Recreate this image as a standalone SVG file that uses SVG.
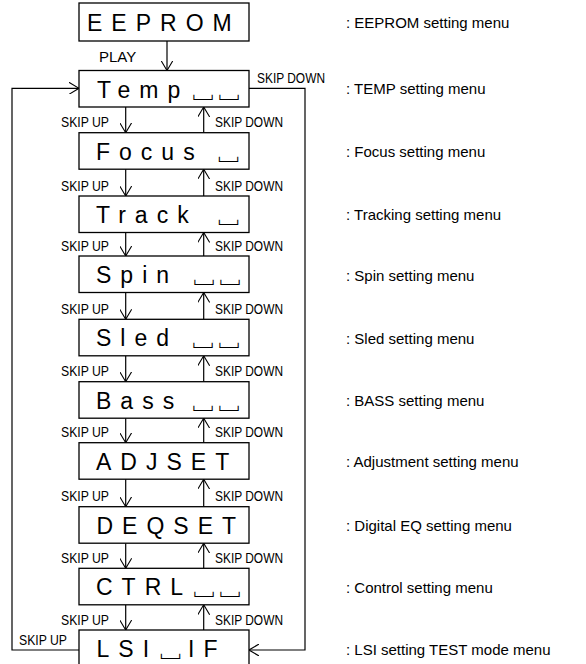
<svg xmlns="http://www.w3.org/2000/svg" width="586" height="664" viewBox="0 0 586 664">
<defs>
<marker id="ah" viewBox="0 0 10 12" refX="10" refY="6" markerWidth="10" markerHeight="12" markerUnits="userSpaceOnUse" orient="auto">
<path d="M0,0 L10,6 L0,12" fill="none" stroke="#000" stroke-width="1.1"/>
</marker>
<style>
.box{fill:#fff;stroke:#000;stroke-width:1.3}
.bt{font-family:"Liberation Sans",Arial,sans-serif;font-size:23px;letter-spacing:9px;fill:#000}
.bl{font-family:"Noto Sans CJK JP",sans-serif;font-size:26px;fill:#000}
.lb{font-family:"Liberation Sans",Arial,sans-serif;font-size:15px;fill:#000}
.ds{font-family:"Liberation Sans",Arial,sans-serif;font-size:15px;fill:#000}
.c{fill:none;stroke:#000;stroke-width:1.2}
</style>
</defs>
<rect width="586" height="664" fill="#fff"/>
<g id="connectors">
<line class="c" x1="167" y1="41" x2="167" y2="70.5" marker-end="url(#ah)"/>
<path class="c" d="M79,650 H12 V88.3 H79" marker-end="url(#ah)"/>
<path class="c" d="M249,88.3 H305 V650 H249" marker-end="url(#ah)"/>
<line class="c" x1="125.7" y1="107" x2="125.7" y2="132.7" marker-end="url(#ah)"/>
<line class="c" x1="203.7" y1="132.7" x2="203.7" y2="107" marker-end="url(#ah)"/>
<line class="c" x1="125.7" y1="169.2" x2="125.7" y2="196" marker-end="url(#ah)"/>
<line class="c" x1="203.7" y1="196" x2="203.7" y2="169.2" marker-end="url(#ah)"/>
<line class="c" x1="125.7" y1="232.5" x2="125.7" y2="256" marker-end="url(#ah)"/>
<line class="c" x1="203.7" y1="256" x2="203.7" y2="232.5" marker-end="url(#ah)"/>
<line class="c" x1="125.7" y1="292.5" x2="125.7" y2="319.3" marker-end="url(#ah)"/>
<line class="c" x1="203.7" y1="319.3" x2="203.7" y2="292.5" marker-end="url(#ah)"/>
<line class="c" x1="125.7" y1="355.8" x2="125.7" y2="381.7" marker-end="url(#ah)"/>
<line class="c" x1="203.7" y1="381.7" x2="203.7" y2="355.8" marker-end="url(#ah)"/>
<line class="c" x1="125.7" y1="418.2" x2="125.7" y2="442.7" marker-end="url(#ah)"/>
<line class="c" x1="203.7" y1="442.7" x2="203.7" y2="418.2" marker-end="url(#ah)"/>
<line class="c" x1="125.7" y1="479.2" x2="125.7" y2="506.7" marker-end="url(#ah)"/>
<line class="c" x1="203.7" y1="506.7" x2="203.7" y2="479.2" marker-end="url(#ah)"/>
<line class="c" x1="125.7" y1="543.2" x2="125.7" y2="568.3" marker-end="url(#ah)"/>
<line class="c" x1="203.7" y1="568.3" x2="203.7" y2="543.2" marker-end="url(#ah)"/>
<line class="c" x1="125.7" y1="604.8" x2="125.7" y2="630" marker-end="url(#ah)"/>
<line class="c" x1="203.7" y1="630" x2="203.7" y2="604.8" marker-end="url(#ah)"/>
<text class="lb" x="99" y="62" font-size="16.5">PLAY</text>
<text class="lb" x="257" y="83" textLength="68" lengthAdjust="spacingAndGlyphs">SKIP DOWN</text>
<text class="lb" x="19" y="645" textLength="48" lengthAdjust="spacingAndGlyphs">SKIP UP</text>
<text class="lb" x="61" y="127.2" textLength="48" lengthAdjust="spacingAndGlyphs">SKIP UP</text>
<text class="lb" x="215" y="127.2" textLength="68" lengthAdjust="spacingAndGlyphs">SKIP DOWN</text>
<text class="lb" x="61" y="190.5" textLength="48" lengthAdjust="spacingAndGlyphs">SKIP UP</text>
<text class="lb" x="215" y="190.5" textLength="68" lengthAdjust="spacingAndGlyphs">SKIP DOWN</text>
<text class="lb" x="61" y="250.5" textLength="48" lengthAdjust="spacingAndGlyphs">SKIP UP</text>
<text class="lb" x="215" y="250.5" textLength="68" lengthAdjust="spacingAndGlyphs">SKIP DOWN</text>
<text class="lb" x="61" y="313.8" textLength="48" lengthAdjust="spacingAndGlyphs">SKIP UP</text>
<text class="lb" x="215" y="313.8" textLength="68" lengthAdjust="spacingAndGlyphs">SKIP DOWN</text>
<text class="lb" x="61" y="376.2" textLength="48" lengthAdjust="spacingAndGlyphs">SKIP UP</text>
<text class="lb" x="215" y="376.2" textLength="68" lengthAdjust="spacingAndGlyphs">SKIP DOWN</text>
<text class="lb" x="61" y="437.2" textLength="48" lengthAdjust="spacingAndGlyphs">SKIP UP</text>
<text class="lb" x="215" y="437.2" textLength="68" lengthAdjust="spacingAndGlyphs">SKIP DOWN</text>
<text class="lb" x="61" y="501.2" textLength="48" lengthAdjust="spacingAndGlyphs">SKIP UP</text>
<text class="lb" x="215" y="501.2" textLength="68" lengthAdjust="spacingAndGlyphs">SKIP DOWN</text>
<text class="lb" x="61" y="562.8" textLength="48" lengthAdjust="spacingAndGlyphs">SKIP UP</text>
<text class="lb" x="215" y="562.8" textLength="68" lengthAdjust="spacingAndGlyphs">SKIP DOWN</text>
<text class="lb" x="61" y="624.5" textLength="48" lengthAdjust="spacingAndGlyphs">SKIP UP</text>
<text class="lb" x="215" y="624.5" textLength="68" lengthAdjust="spacingAndGlyphs">SKIP DOWN</text>
</g>
<g id="eeprom">
<rect class="box" x="79" y="3" width="170" height="38"/>
<text class="bt" x="87" y="30.5">EEPROM</text>
<text class="ds" x="346" y="27.5">: EEPROM setting menu</text>
</g>
<g id="temp">
<rect class="box" x="79" y="70.5" width="170" height="36.5"/>
<text class="bt" x="97" y="97.5">Temp</text>
<text class="bl" x="190" y="96.5">␣</text>
<text class="bl" x="216" y="96.5">␣</text>
<text class="ds" x="346" y="93.5">: TEMP setting menu</text>
</g>
<g id="focus">
<rect class="box" x="79" y="132.7" width="170" height="36.5"/>
<text class="bt" x="96" y="159.7">Focus</text>
<text class="bl" x="215.5" y="158.7">␣</text>
<text class="ds" x="346" y="156.5">: Focus setting menu</text>
</g>
<g id="track">
<rect class="box" x="79" y="196" width="170" height="36.5"/>
<text class="bt" x="96" y="223">Track</text>
<text class="bl" x="215.5" y="222">␣</text>
<text class="ds" x="346" y="219.5">: Tracking setting menu</text>
</g>
<g id="spin">
<rect class="box" x="79" y="256" width="170" height="36.5"/>
<text class="bt" x="96" y="283">Spin</text>
<text class="bl" x="191" y="282">␣</text>
<text class="bl" x="217" y="282">␣</text>
<text class="ds" x="346" y="280.5">: Spin setting menu</text>
</g>
<g id="sled">
<rect class="box" x="79" y="319.3" width="170" height="36.5"/>
<text class="bt" x="96" y="346.3">Sled</text>
<text class="bl" x="190" y="345.3">␣</text>
<text class="bl" x="216" y="345.3">␣</text>
<text class="ds" x="346" y="343.5">: Sled setting menu</text>
</g>
<g id="bass">
<rect class="box" x="79" y="381.7" width="170" height="36.5"/>
<text class="bt" x="96" y="408.7">Bass</text>
<text class="bl" x="190" y="407.7">␣</text>
<text class="bl" x="216" y="407.7">␣</text>
<text class="ds" x="346" y="405.5">: BASS setting menu</text>
</g>
<g id="adjset">
<rect class="box" x="79" y="442.7" width="170" height="36.5"/>
<text class="bt" x="96" y="469.7">ADJSET</text>
<text class="ds" x="346" y="467">: Adjustment setting menu</text>
</g>
<g id="deqset">
<rect class="box" x="79" y="506.7" width="170" height="36.5"/>
<text class="bt" x="96.5" y="533.7">DEQSET</text>
<text class="ds" x="346" y="530.5">: Digital EQ setting menu</text>
</g>
<g id="ctrl">
<rect class="box" x="79" y="568.3" width="170" height="36.5"/>
<text class="bt" x="96" y="595.3">CTRL</text>
<text class="bl" x="191" y="594.3">␣</text>
<text class="bl" x="217" y="594.3">␣</text>
<text class="ds" x="346" y="592.5">: Control setting menu</text>
</g>
<g id="lsi">
<rect class="box" x="79" y="630" width="170" height="40"/>
<text class="bt" x="96.5" y="657"><tspan>LSI</tspan><tspan x="188">IF</tspan></text>
<text class="bl" x="157.5" y="656" font-size="24">␣</text>
<text class="ds" x="346" y="654.5">: LSI setting TEST mode menu</text>
</g>
</svg>
